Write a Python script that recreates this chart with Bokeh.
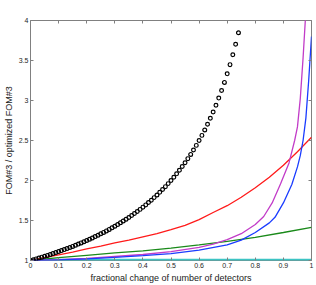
from bokeh.plotting import figure
from bokeh.models import Range1d, FixedTicker, LinearAxis
from bokeh.embed import file_html
from bokeh.resources import INLINE

# ---- data ----
x_ticks = [0.0, 0.1, 0.2, 0.3, 0.4, 0.5, 0.6, 0.7, 0.8, 0.9, 1.0]
x_tick_labels = ["0", "0.1", "0.2", "0.3", "0.4", "0.5", "0.6", "0.7", "0.8", "0.9", "1"]
y_ticks = [1.0, 1.5, 2.0, 2.5, 3.0, 3.5, 4.0]
y_tick_labels = ["1", "1.5", "2", "2.5", "3", "3.5", "4"]

circ_x = [0.00, 0.01, 0.02, 0.03, 0.04, 0.05, 0.06, 0.07, 0.08, 0.09,
          0.10, 0.11, 0.12, 0.13, 0.14, 0.15, 0.16, 0.17, 0.18, 0.19,
          0.20, 0.21, 0.22, 0.23, 0.24, 0.25, 0.26, 0.27, 0.28, 0.29,
          0.30, 0.31, 0.32, 0.33, 0.34, 0.35, 0.36, 0.37, 0.38, 0.39,
          0.40, 0.41, 0.42, 0.43, 0.44, 0.45, 0.46, 0.47, 0.48, 0.49,
          0.50, 0.51, 0.52, 0.53, 0.54, 0.55, 0.56, 0.57, 0.58, 0.59,
          0.60, 0.61, 0.62, 0.63, 0.64, 0.65, 0.66, 0.67, 0.68, 0.69,
          0.70, 0.71, 0.72, 0.73, 0.74]
circ_y = [1.000, 1.010, 1.020, 1.031, 1.042, 1.053, 1.064, 1.075, 1.087, 1.099,
          1.111, 1.124, 1.136, 1.149, 1.163, 1.176, 1.190, 1.205, 1.220, 1.235,
          1.250, 1.266, 1.282, 1.299, 1.316, 1.333, 1.351, 1.370, 1.389, 1.408,
          1.429, 1.449, 1.471, 1.493, 1.515, 1.538, 1.563, 1.587, 1.613, 1.639,
          1.667, 1.695, 1.724, 1.754, 1.786, 1.818, 1.852, 1.887, 1.923, 1.961,
          2.000, 2.041, 2.083, 2.128, 2.174, 2.222, 2.273, 2.326, 2.381, 2.439,
          2.500, 2.564, 2.632, 2.703, 2.778, 2.857, 2.941, 3.030, 3.125, 3.226,
          3.333, 3.448, 3.571, 3.704, 3.846]

red_x = [0.0, 0.05, 0.1, 0.15, 0.2, 0.25, 0.3, 0.35, 0.4, 0.45, 0.5, 0.55,
         0.6, 0.65, 0.7, 0.75, 0.8, 0.85, 0.9, 0.95, 1.0]
red_y = [1.0, 1.035, 1.07, 1.105, 1.145, 1.18, 1.22, 1.255, 1.295, 1.335, 1.385, 1.44,
         1.51, 1.6, 1.685, 1.79, 1.91, 2.04, 2.19, 2.36, 2.54]

green_x = [0.0, 0.1, 0.2, 0.3, 0.4, 0.5, 0.6, 0.7, 0.8, 0.9, 1.0]
green_y = [1.0, 1.035, 1.065, 1.095, 1.12, 1.155, 1.195, 1.24, 1.29, 1.35, 1.415]

magenta_x = [0.0, 0.1, 0.2, 0.3, 0.4, 0.5, 0.6, 0.65, 0.7, 0.75, 0.8, 0.83,
             0.86, 0.89, 0.92, 0.94, 0.95, 0.96, 0.97, 0.98]
magenta_y = [1.0, 1.01, 1.025, 1.05, 1.075, 1.11, 1.165, 1.205, 1.26, 1.335, 1.45, 1.55,
             1.72, 1.96, 2.22, 2.5, 2.67, 3.02, 3.53, 4.12]

blue_x = [0.0, 0.1, 0.2, 0.3, 0.4, 0.5, 0.6, 0.7, 0.75, 0.8, 0.85, 0.87,
          0.9, 0.93, 0.95, 0.96, 0.97, 0.98, 0.99, 1.0]
blue_y = [1.0, 1.008, 1.02, 1.04, 1.06, 1.085, 1.13, 1.195, 1.255, 1.35, 1.47, 1.54,
          1.72, 1.95, 2.17, 2.31, 2.5, 2.78, 3.25, 3.8]

cyan_x = [0.0, 1.0]
cyan_y = [1.0, 1.0]

FONT = "Liberation Sans"
GRAY = "#808080"

p = figure(width=316, height=285, x_range=Range1d(0, 1), y_range=Range1d(1, 4),
           output_backend="svg", toolbar_location=None,
           min_border_left=27, min_border_right=5, min_border_top=20, min_border_bottom=22)
p.background_fill_color = "white"
p.border_fill_color = "white"
p.outline_line_color = GRAY
p.outline_line_width = 1
p.outline_line_alpha = 1.0
p.xgrid.visible = False
p.ygrid.visible = False

for ax, ticks, labels in ((p.xaxis[0], x_ticks, x_tick_labels), (p.yaxis[0], y_ticks, y_tick_labels)):
    ax.ticker = FixedTicker(ticks=ticks)
    ax.major_label_overrides = {t: l for t, l in zip(ticks, labels)}
    ax.axis_line_color = None
    ax.major_tick_in = 3
    ax.major_tick_out = 0
    ax.major_tick_line_color = GRAY
    ax.minor_tick_line_color = None
    ax.major_label_text_font = FONT
    ax.major_label_text_font_size = "7px"
    ax.major_label_text_color = "#262626"
    ax.major_label_standoff = 2
    ax.axis_label_text_font = FONT
    ax.axis_label_text_font_size = "9px"
    ax.axis_label_text_font_style = "normal"
    ax.axis_label_text_color = "#1a1a1a"
    ax.axis_label_standoff = 2

p.xaxis.axis_label = "fractional change of number of detectors"
p.yaxis.axis_label = "FOM#3 / optimized FOM#3"

# top and right tick marks only (no labels): drawn as minor ticks of extra axes
for loc, ticks in (("above", x_ticks), ("right", y_ticks)):
    ax = LinearAxis(ticker=FixedTicker(ticks=[], minor_ticks=ticks), axis_line_color=None,
                    major_tick_line_color=None, minor_tick_in=3, minor_tick_out=0,
                    minor_tick_line_color=GRAY, major_label_standoff=0)
    p.add_layout(ax, loc)

p.line(cyan_x, cyan_y, line_color="#3cc4c4", line_width=3.5)
p.line(red_x, red_y, line_color="#ff1a1a", line_width=1.3)
p.line(green_x, green_y, line_color="#1a8a1a", line_width=1.3)
p.line(magenta_x, magenta_y, line_color="#c23cc8", line_width=1.3)
p.line(blue_x, blue_y, line_color="#1a3cff", line_width=1.3)
p.scatter(circ_x, circ_y, marker="circle", size=3.8, line_color="black",
          line_width=1.2, fill_color=None)

open("out.html", "w").write(file_html(p, INLINE))
